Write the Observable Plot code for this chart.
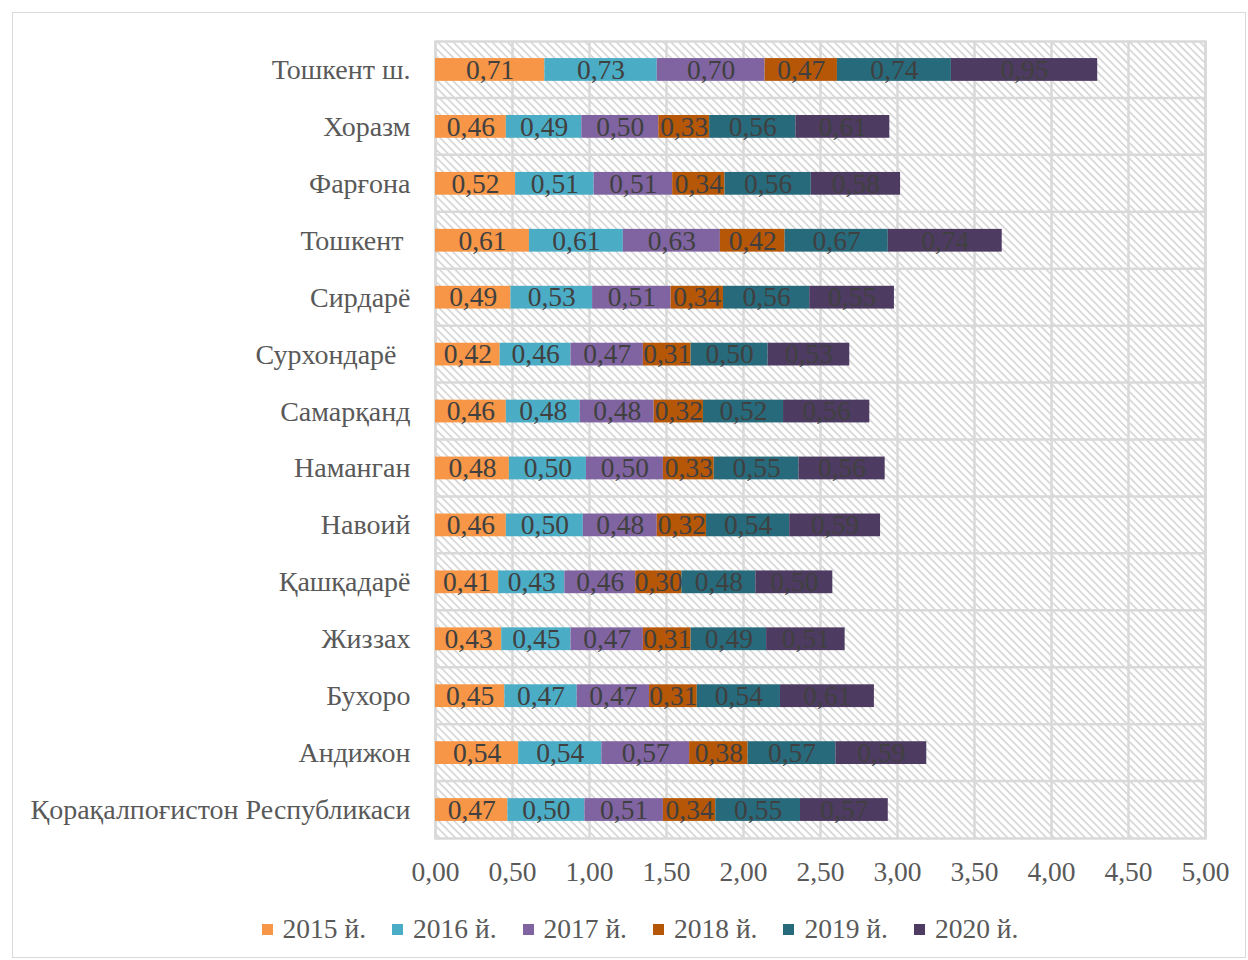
<!DOCTYPE html>
<html>
<head>
<meta charset="utf-8">
<script src="https://cdn.jsdelivr.net/npm/d3@7"></script>
<script src="https://cdn.jsdelivr.net/npm/@observablehq/plot@0.6"></script>
<style>
  html, body { margin: 0; padding: 0; background: #fff; }
  #frame { position: absolute; left: 12px; top: 12px; width: 1234px; height: 946px; border: 1px solid #d9d9d9; box-sizing: border-box; }
  #chart { position: absolute; left: 0; top: 0; }
  #legend { position: absolute; left: 16px; top: 914px; width: 1248px; display: flex; justify-content: center; align-items: center;
            font-family: "Liberation Serif", "Times New Roman", serif; font-size: 27.5px; line-height: 30px; color: #595959; }
  .item { display: flex; align-items: center; margin: 0 13px; }
  .sw { width: 11px; height: 11px; margin-right: 10px; }
</style>
</head>
<body>
<div id="frame"></div>
<div id="chart"></div>
<div id="legend"></div>
<script>
const regions = [
  "Тошкент ш.", "Хоразм", "Фарғона", "Тошкент\u00a0", "Сирдарё", "Сурхондарё\u00a0\u00a0",
  "Самарқанд", "Наманган", "Навоий", "Қашқадарё", "Жиззах", "Бухоро", "Андижон",
  "Қорақалпоғистон Республикаси"
];
const years = ["2015 й.", "2016 й.", "2017 й.", "2018 й.", "2019 й.", "2020 й."];
const colors = ["#F79646", "#4BACC6", "#8064A2", "#B65708", "#276A7C", "#4D3B62"];

const v2015 = [0.71, 0.46, 0.52, 0.61, 0.49, 0.42, 0.46, 0.48, 0.46, 0.41, 0.43, 0.45, 0.54, 0.47];
const v2016 = [0.73, 0.49, 0.51, 0.61, 0.53, 0.46, 0.48, 0.50, 0.50, 0.43, 0.45, 0.47, 0.54, 0.50];
const v2017 = [0.70, 0.50, 0.51, 0.63, 0.51, 0.47, 0.48, 0.50, 0.48, 0.46, 0.47, 0.47, 0.57, 0.51];
const v2018 = [0.47, 0.33, 0.34, 0.42, 0.34, 0.31, 0.32, 0.33, 0.32, 0.30, 0.31, 0.31, 0.38, 0.34];
const v2019 = [0.74, 0.56, 0.56, 0.67, 0.56, 0.50, 0.52, 0.55, 0.54, 0.48, 0.49, 0.54, 0.57, 0.55];
const v2020 = [0.95, 0.61, 0.58, 0.74, 0.55, 0.53, 0.56, 0.56, 0.59, 0.50, 0.51, 0.61, 0.59, 0.57];
const series = [v2015, v2016, v2017, v2018, v2019, v2020];

const xTicks = [0, 0.5, 1, 1.5, 2, 2.5, 3, 3.5, 4, 4.5, 5];

const data = [];
years.forEach((yr, j) => regions.forEach((r, i) => data.push({region: r, year: yr, value: series[j][i]})));

const fmt = v => v.toFixed(2).replace(".", ",");

const bandLines = (index, scales, values, dims) => {
  const g = d3.create("svg:g");
  const top = dims.marginTop, bottom = dims.height - dims.marginBottom;
  const step = (bottom - top) / regions.length;
  for (let i = 1; i < regions.length; i++) {
    g.append("line")
      .attr("x1", dims.marginLeft).attr("x2", dims.width - dims.marginRight)
      .attr("y1", top + i * step).attr("y2", top + i * step)
      .attr("stroke", "#d9d9d9").attr("stroke-width", 2.5);
  }
  return g.node();
};

const chart = Plot.plot({
  width: 1248,
  height: 900,
  marginLeft: 435,
  marginRight: 43,
  marginTop: 41,
  marginBottom: 62,
  style: {fontFamily: "'Liberation Serif', 'Times New Roman', serif", fontSize: "27.5px", color: "#595959", background: "transparent", overflow: "visible"},
  x: {domain: [0, 5], axis: null, label: null},
  y: {domain: regions, paddingInner: 0.6, paddingOuter: 0.3, round: false, axis: null, label: null},
  color: {domain: years, range: colors},
  marks: [
    Plot.frame({fill: "url(#hatch)", stroke: "#d9d9d9", strokeWidth: 2.5}),
    Plot.ruleX(xTicks, {stroke: "#d9d9d9", strokeWidth: 2.5}),
    bandLines,
    Plot.barX(data, Plot.stackX({x: "value", y: "region", fill: "year", z: "year", order: null})),
    Plot.text(data, Plot.stackX({x: "value", y: "region", z: "year", order: null, text: d => fmt(d.value),
      fill: "#404040", fontSize: 27.5, textAnchor: "middle"})),
    Plot.axisX(xTicks, {tickSize: 0, tickPadding: 23, tickFormat: fmt, fill: "#595959", fontSize: 27.5, label: null}),
    Plot.axisY({tickSize: 0, tickPadding: 25, fill: "#595959", fontSize: 28, label: null})
  ]
});

const defs = d3.create("svg:defs");
const pat = defs.append("pattern").attr("id", "hatch").attr("patternUnits", "userSpaceOnUse")
  .attr("width", 5.5).attr("height", 5.5).attr("patternTransform", "rotate(45)");
pat.append("rect").attr("width", 5.5).attr("height", 5.5).attr("fill", "#ffffff");
pat.append("rect").attr("width", 5.5).attr("height", 1.6).attr("fill", "#d4d4d4");
chart.insertBefore(defs.node(), chart.firstChild);

document.getElementById("chart").appendChild(chart);

const legend = d3.select("#legend");
years.forEach((yr, j) => {
  const it = legend.append("div").attr("class", "item");
  it.append("div").attr("class", "sw").style("background", colors[j]);
  it.append("span").text(yr);
});
</script>
</body>
</html>
